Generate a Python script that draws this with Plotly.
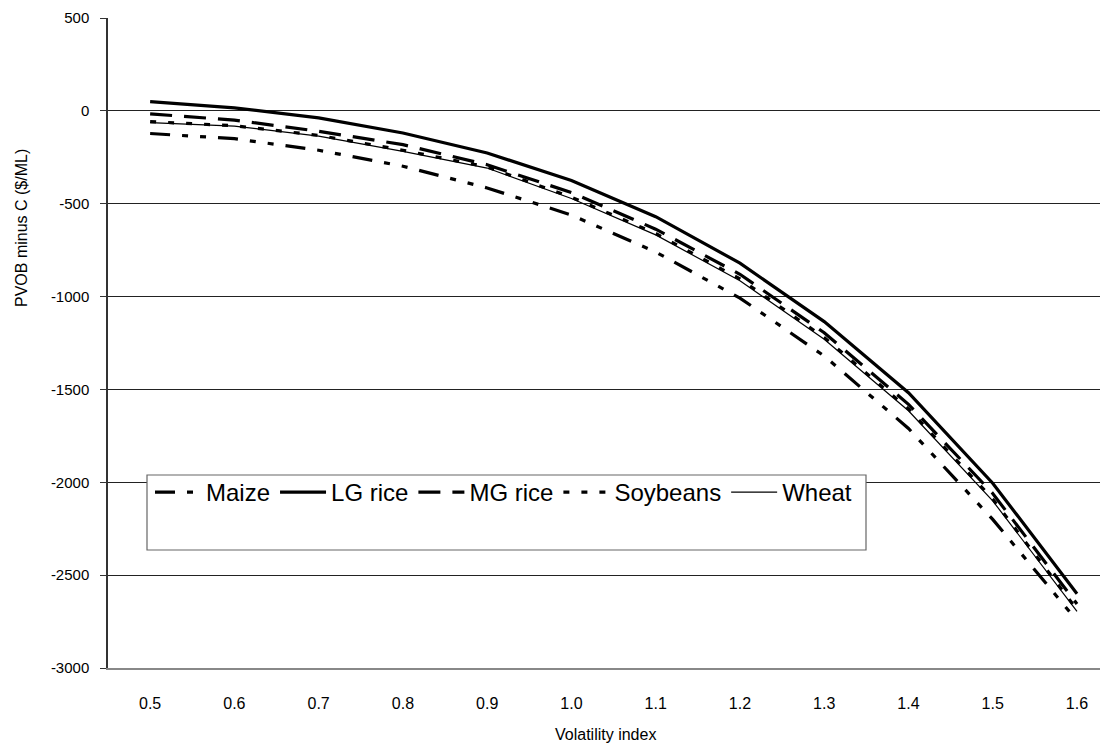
import plotly.graph_objects as go

x_vals = [0.5, 0.6, 0.7, 0.8, 0.9, 1.0, 1.1, 1.2, 1.3, 1.4, 1.5, 1.6]
x_labels = ["0.5", "0.6", "0.7", "0.8", "0.9", "1.0", "1.1", "1.2", "1.3", "1.4", "1.5", "1.6"]

maize = [-122, -150, -212, -298, -415, -561, -760, -1008, -1320, -1710, -2200, -2745]
lg_rice = [50, 16, -38, -119, -227, -375, -570, -820, -1135, -1518, -2005, -2600]
mg_rice = [-16, -50, -110, -182, -290, -440, -637, -880, -1195, -1580, -2060, -2655]
soybeans = [-58, -80, -132, -212, -302, -465, -660, -905, -1220, -1605, -2090, -2685]
wheat = [-63, -82, -136, -218, -308, -472, -668, -915, -1230, -1615, -2100, -2695]

y_ticks = [500, 0, -500, -1000, -1500, -2000, -2500, -3000]
y_labels = ["500", "0", "-500", "-1000", "-1500", "-2000", "-2500", "-3000"]

FONT = "Liberation Sans, Arial, sans-serif"

series = [
    ("Maize", maize, dict(color="black", width=3.2, dash="20px,12px,6px,12px,6px,12px")),
    ("LG rice", lg_rice, dict(color="black", width=3.2)),
    ("MG rice", mg_rice, dict(color="black", width=3.2, dash="22px,12px")),
    ("Soybeans", soybeans, dict(color="black", width=3.2, dash="6px,12px")),
    ("Wheat", wheat, dict(color="black", width=1.2)),
]

fig = go.Figure()
for name, vals, line in series:
    fig.add_trace(go.Scatter(x=x_vals, y=vals, mode="lines", name=name, line=line))

# the page body adds an 8px offset; compensate so the plot lands where intended
OFF = 8
W, H = 1108 - OFF, 751 - OFF
L, R, T, B = 108 - OFF, 0, 18 - OFF, 83
pw, ph = W - L - R, H - T - B

def px(xp):
    return (xp - OFF - L) / pw

def py(yp):
    return (H - B - (yp - OFF)) / ph

fig.update_layout(
    width=W, height=H,
    margin=dict(l=L, r=R, t=T, b=B, autoexpand=False),
    paper_bgcolor="white", plot_bgcolor="white",
    font=dict(family=FONT, color="black", size=15),
    showlegend=True,
    legend=dict(
        orientation="h", x=px(150), y=py(470), xanchor="left", yanchor="top",
        bgcolor="rgba(0,0,0,0)", borderwidth=0,
        font=dict(family=FONT, size=24, color="black"),
        itemwidth=46, tracegroupgap=0,
    ),
    xaxis=dict(
        range=[0.45, 1.6368], tickvals=x_vals, ticktext=x_labels,
        showgrid=False, zeroline=False, automargin=False,
        showline=True, linecolor="#888888", linewidth=2,
        ticks="outside", ticklen=20, tickcolor="rgba(0,0,0,0)",
        tickfont=dict(family=FONT, size=16, color="black"),
    ),
    yaxis=dict(
        range=[-3000, 500], tickvals=y_ticks, ticktext=y_labels,
        showgrid=True, gridcolor="#222222", gridwidth=1,
        zeroline=False, automargin=False,
        showline=True, linecolor="#333333", linewidth=1.5,
        ticks="outside", ticklen=6, tickcolor="#333333",
        ticklabelstandoff=8,
        tickfont=dict(family=FONT, size=15, color="black"),
    ),
    shapes=[
        dict(type="rect", xref="paper", yref="paper",
             x0=px(147), x1=px(866), y0=py(550), y1=py(475),
             fillcolor="white", line=dict(color="#666666", width=1.2), layer="above"),
    ],
    annotations=[
        dict(text="PVOB minus C ($/ML)", xref="paper", yref="paper",
             x=px(22), y=py(228), textangle=-90, showarrow=False,
             xanchor="center", yanchor="middle",
             font=dict(family=FONT, size=16, color="black")),
        dict(text="Volatility index", xref="paper", yref="paper",
             x=px(605), y=py(734), showarrow=False,
             xanchor="center", yanchor="middle",
             font=dict(family=FONT, size=16, color="black")),
    ],
)

fig.write_html("out.html")
